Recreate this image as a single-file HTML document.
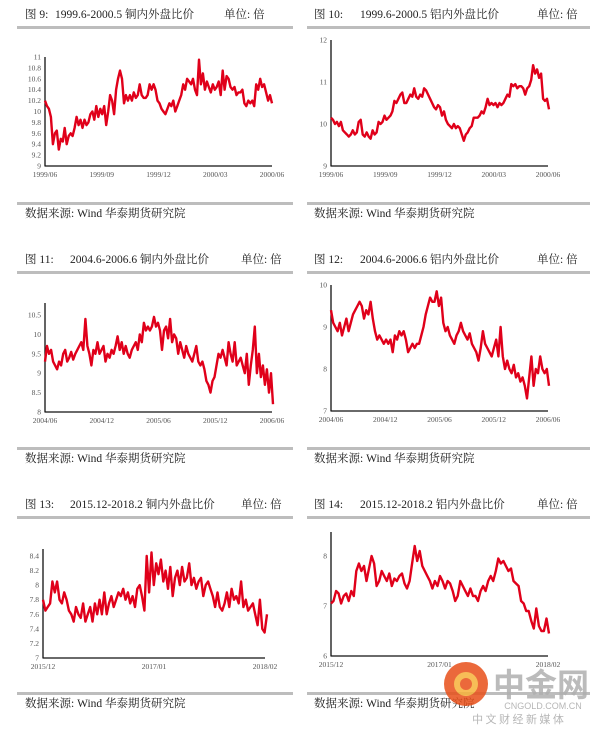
<!DOCTYPE html>
<html><head><meta charset="utf-8">
<style>
html,body{margin:0;padding:0;background:#fff;}
svg{display:block;}
.t{font-family:"Liberation Serif","Noto Serif CJK SC",serif;font-size:11.5px;fill:#222;}
.tk{font-family:"Liberation Serif",serif;font-size:7.5px;fill:#555;}
</style></head><body>
<svg id="root" width="600" height="735" viewBox="0 0 600 735" xmlns="http://www.w3.org/2000/svg"></svg>
<script>
// ---- data ----
const cu1999Values = [10.2,10.1,10.05,9.9,9.4,9.6,9.65,9.3,9.5,9.45,9.7,9.4,9.55,9.6,9.55,9.7,9.9,9.75,9.85,9.7,9.85,9.75,9.8,9.95,10.0,9.85,10.1,9.9,10.05,9.95,10.1,9.75,10.0,10.3,10.2,9.95,10.4,10.6,10.75,10.6,10.15,10.3,10.2,10.3,10.2,10.35,10.25,10.3,10.5,10.3,10.25,10.25,10.3,10.5,10.4,10.5,10.4,10.2,10.15,10.05,10.0,9.95,10.05,10.15,10.1,10.2,10.0,10.1,10.2,10.3,10.5,10.4,10.6,10.55,10.5,10.6,10.4,10.3,10.95,10.5,10.7,10.4,10.55,10.45,10.35,10.5,10.4,10.45,10.55,10.3,10.75,10.4,10.65,10.6,10.45,10.4,10.45,10.3,10.35,10.35,10.4,10.15,10.1,10.2,10.15,10.2,10.1,10.5,10.4,10.6,10.45,10.5,10.35,10.2,10.3,10.15];
const al1999Values = [10.15,10.1,10.0,10.05,9.95,10.05,9.85,9.8,9.75,9.7,9.75,9.85,9.75,9.8,10.05,10.1,9.75,9.7,9.8,9.7,9.65,9.85,9.75,9.8,10.05,10.0,10.05,10.2,10.1,10.15,10.2,10.3,10.55,10.5,10.6,10.7,10.75,10.5,10.5,10.6,10.7,10.65,10.85,10.65,10.6,10.7,10.65,10.85,10.8,10.7,10.6,10.5,10.4,10.35,10.45,10.4,10.2,10.3,10.1,10.0,9.95,9.9,10.0,9.9,9.95,9.9,9.75,9.6,9.75,9.8,9.9,9.95,10.15,10.15,10.15,10.2,10.3,10.25,10.4,10.6,10.45,10.5,10.45,10.5,10.4,10.5,10.45,10.5,10.6,10.7,10.65,10.95,10.9,10.95,10.85,10.9,10.9,10.85,10.7,10.85,10.9,11.05,11.4,11.2,11.3,11.1,11.2,10.6,10.55,10.6,10.35];
const cu2004Values = [9.3,9.7,9.5,9.6,9.3,9.2,9.1,9.3,9.2,9.5,9.6,9.3,9.4,9.55,9.35,9.5,9.6,9.7,9.8,9.6,10.4,9.7,9.5,9.2,9.6,9.5,9.8,9.5,9.6,9.7,9.3,9.5,9.4,9.6,9.5,9.7,9.95,9.6,9.8,9.5,9.7,9.5,9.4,9.6,9.7,9.8,9.6,10.0,9.8,10.3,10.1,10.2,10.1,10.2,10.45,10.2,10.3,10.1,9.6,10.1,10.2,9.9,10.4,9.8,10.0,9.9,9.5,9.8,9.6,9.4,9.7,9.5,9.4,9.3,9.5,9.7,9.3,9.2,9.3,9.1,8.8,8.7,8.5,8.8,8.9,9.2,9.5,9.4,9.6,9.4,9.2,9.8,9.5,9.3,9.8,9.2,9.3,9.4,9.2,9.0,9.5,8.7,9.2,9.6,10.2,9.0,9.5,8.9,9.2,8.7,9.1,8.5,9.0,8.2];
const al2004Values = [9.4,9.1,9.0,8.9,9.1,8.8,9.0,9.2,8.9,9.1,9.3,9.4,9.5,9.6,9.5,9.2,9.4,9.3,9.6,9.2,8.9,8.7,8.8,8.7,8.6,8.7,8.6,8.7,8.4,8.8,8.7,8.9,8.8,8.9,8.7,8.4,8.5,8.6,8.5,8.6,8.6,8.8,9.0,9.3,9.5,9.7,9.6,9.6,9.85,9.5,9.7,9.1,8.9,9.0,8.8,8.7,8.6,8.8,8.9,9.1,8.9,8.8,8.7,8.85,8.6,8.5,8.4,8.2,8.5,8.9,8.6,8.5,8.4,8.3,8.5,8.7,8.3,9.0,8.3,8.0,8.2,8.0,7.9,8.1,7.8,7.9,7.7,7.8,7.6,7.3,7.8,8.3,7.6,8.0,7.9,8.3,8.0,7.9,8.0,7.6];
const cu2015Values = [7.8,7.65,7.7,7.75,8.05,7.9,8.05,7.8,7.75,7.9,7.8,7.65,7.6,7.5,7.7,7.6,7.55,7.75,7.5,7.6,7.7,7.5,7.75,7.6,7.8,7.6,7.9,7.6,7.75,7.85,7.7,7.8,7.9,7.85,7.95,7.8,7.9,7.75,7.85,7.7,7.95,8.0,7.85,7.65,8.4,7.9,8.45,8.0,8.3,8.15,8.35,8.05,8.2,7.95,8.25,7.85,8.1,8.2,8.0,8.25,8.05,8.1,8.3,8.0,8.1,7.95,8.05,8.1,7.85,8.0,8.05,7.95,7.85,7.7,7.9,7.7,7.65,7.75,7.9,7.7,7.95,7.8,7.85,7.75,8.05,7.7,7.8,7.65,7.7,7.75,7.6,7.45,7.8,7.4,7.35,7.6];
const al2015Values = [7.05,7.1,7.3,7.25,7.05,7.2,7.25,7.1,7.3,7.2,7.7,7.85,7.7,7.8,7.5,7.75,8.0,7.85,7.4,7.5,7.7,7.6,7.5,7.65,7.4,7.55,7.5,7.6,7.65,7.45,7.35,7.5,7.85,8.2,7.9,8.1,7.8,7.7,7.6,7.5,7.35,7.5,7.4,7.6,7.5,7.35,7.5,7.45,7.3,7.1,7.2,7.5,7.4,7.3,7.2,7.35,7.2,7.2,7.1,7.3,7.4,7.3,7.5,7.6,7.5,7.7,7.95,7.85,7.9,7.8,7.7,7.75,7.5,7.45,7.4,7.1,7.05,6.9,6.9,6.7,6.55,6.95,6.6,6.5,6.5,6.75,6.45];
const ticks9 = ["9","9.2","9.4","9.6","9.8","10","10.2","10.4","10.6","10.8","11"];
const ticks10 = ["9","10","11","12"];
const ticks11 = ["8","8.5","9","9.5","10","10.5"];
const ticks12 = ["7","8","9","10"];
const ticks13 = ["7","7.2","7.4","7.6","7.8","8","8.2","8.4"];
const ticks14 = ["6","7","8"];
const xl1999 = ["1999/06","1999/09","1999/12","2000/03","2000/06"];
const xl2004 = ["2004/06","2004/12","2005/06","2005/12","2006/06"];
const xl2015 = ["2015/12","2017/01","2018/02"];

const NS="http://www.w3.org/2000/svg";
const root=document.getElementById('root');
function mk(tag,attrs,parent){const e=document.createElementNS(NS,tag);for(const k in attrs)e.setAttribute(k,attrs[k]);(parent||root).appendChild(e);return e;}
function txt(x,y,s,cls,anchor,parent){const e=mk('text',{x:x,y:y,class:cls,'text-anchor':anchor||'start'},parent);e.textContent=s;return e;}

function panel(p){
  const g=mk('g',{});
  
  
  const tt=txt(p.ox+p.tx0,p.oy+18,p.fig,'t','start',g);
  
  
  const tr=txt(p.ox+p.tx1,p.oy+18,p.range+'  '+p.title,'t','start',g);
  
  
  const tu=txt(p.ox+p.ux,p.oy+18,'单位:  倍','t','start',g);
  
  
  const r1=mk('rect',{x:p.ox+p.rx,y:p.oy+26,width:p.rw,height:3,fill:'#bdbdbd'},g);
  
  
  const r2=mk('rect',{x:p.ox+p.rx,y:p.oy+202,width:p.rw,height:3,fill:'#bdbdbd'},g);
  
  
  const s=txt(p.ox+p.tx0,p.oy+217,'数据来源:   Wind  华泰期货研究院','t','start',g);
  
  
  const ymin=+p.ticks[0], ymax=+p.ticks[p.ticks.length-1];
  const y=v=>p.y0+(v-ymin)/(ymax-ymin)*(p.y1-p.y0);
  const n=p.values.length;
  const x=i=>p.ax+ (i/(n-1))*(p.dx1-p.ax);
  const ax=mk('line',{x1:p.ax,y1:p.axTop,x2:p.ax,y2:p.y0+0.5,stroke:'#111','stroke-width':1.3},g);
  
  
  const bx=mk('line',{x1:p.ax,y1:p.y0,x2:p.xEnd,y2:p.y0,stroke:'#111','stroke-width':1.3},g);
  
  
  p.ticks.forEach(t=>{
    const e=txt(p.ax-4,y(+t)+2.5,t,'tk','end',g);
    
    
  });
  p.xlabels.forEach((l,i)=>{
    const xx=p.ax+i/(p.xlabels.length-1)*(p.xEnd-p.ax);
    const e=txt(xx,p.y0+11,l,'tk','middle',g);
    
    
  });
  const d=p.values.map((v,i)=>(i?'L':'M')+x(i).toFixed(1)+','+y(v).toFixed(1)).join('');
  const path=mk('path',{d:d,fill:'none',stroke:'#e0001a','stroke-width':2.4,'stroke-linejoin':'round'},g);
  
  
}

panel({name:'chart-fig9',ox:0,oy:0,tx0:25,tx1:55,ux:224,rx:17,rw:276,fig:'图 9:',range:'1999.6-2000.5',title:'铜内外盘比价',
  values:cu1999Values,ticks:ticks9,xlabels:xl1999,ax:45,axTop:57,y0:166,y1:57,xEnd:272,dx1:272});
panel({name:'chart-fig10',ox:300,oy:0,tx0:14,tx1:60,ux:237,rx:7,rw:283,fig:'图 10:',range:'1999.6-2000.5',title:'铝内外盘比价',
  values:al1999Values,ticks:ticks10,xlabels:xl1999,ax:331,axTop:40,y0:166,y1:40,xEnd:548,dx1:549});
panel({name:'chart-fig11',ox:0,oy:245,tx0:25,tx1:70,ux:241,rx:17,rw:276,fig:'图 11:',range:'2004.6-2006.6',title:'铜内外盘比价',
  values:cu2004Values,ticks:ticks11,xlabels:xl2004,ax:45,axTop:303,y0:412,y1:315,xEnd:272,dx1:273});
panel({name:'chart-fig12',ox:300,oy:245,tx0:14,tx1:60,ux:237,rx:7,rw:283,fig:'图 12:',range:'2004.6-2006.6',title:'铝内外盘比价',
  values:al2004Values,ticks:ticks12,xlabels:xl2004,ax:331,axTop:285,y0:411,y1:285,xEnd:548,dx1:549});
panel({name:'chart-fig13',ox:0,oy:490,tx0:25,tx1:70,ux:241,rx:17,rw:276,fig:'图 13:',range:'2015.12-2018.2',title:'铜内外盘比价',
  values:cu2015Values,ticks:ticks13,xlabels:xl2015,ax:43,axTop:549,y0:658,y1:556,xEnd:265,dx1:267});
panel({name:'chart-fig14',ox:300,oy:490,tx0:14,tx1:60,ux:237,rx:7,rw:283,fig:'图 14:',range:'2015.12-2018.2',title:'铝内外盘比价',
  values:al2015Values,ticks:ticks14,xlabels:xl2015,ax:331,axTop:532,y0:656,y1:556,xEnd:548,dx1:549});

const wm=mk('g',{opacity:0.85});


mk('circle',{cx:466,cy:684,r:22,fill:'#e8501a'},wm);
mk('circle',{cx:466,cy:684,r:12,fill:'#f6b23a'},wm);
mk('circle',{cx:466,cy:684,r:6,fill:'#e8501a'},wm);
const w1=txt(541,696,'中金网','t','middle',wm);
w1.setAttribute('style','font-size:32px;fill:#b0b0b0;font-family:"Noto Sans CJK SC",sans-serif;font-weight:bold');
const w2=txt(543,709,'CNGOLD.COM.CN','t','middle',wm);
w2.setAttribute('style','font-size:9px;fill:#aaa;font-family:"Liberation Sans",sans-serif');
const w3=txt(518,723,'中 文 财 经 新 媒 体','t','middle',wm);
w3.setAttribute('style','font-size:11px;fill:#aaa;font-family:"Noto Sans CJK SC",sans-serif');
</script>
</body></html>
